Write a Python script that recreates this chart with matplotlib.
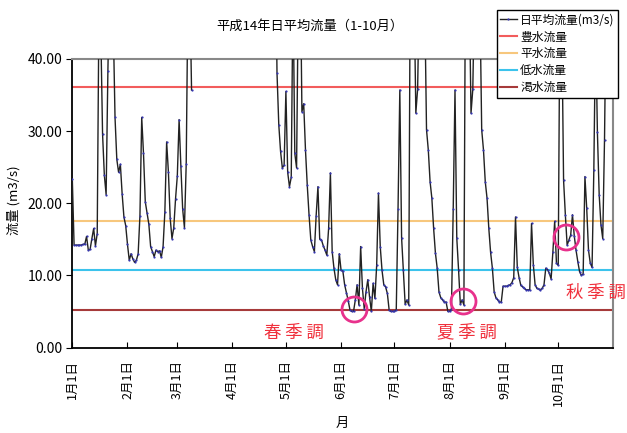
import numpy as np
import matplotlib
matplotlib.use('Agg')
import matplotlib.pyplot as plt

plt.rcParams['font.family'] = ['Noto Sans CJK JP', 'DejaVu Sans']

nan = np.nan

# Daily mean flow (m3/s), 2002 Jan 1 - Oct 31 (values above 40 run off the chart)
jan = [23.4, 14.2, 14.2, 14.2, 14.2, 14.2, 14.3, 14.3, 15.4, 13.5, 13.6, 15.1, 16.5, 14.1, 15.8,
       48, 44, 29.6, 23.9, 21.2, 38.4, 52, 55, 45, 31.9, 26.1, 24.3, 25.4, 21.3, 18.1, 16.9]
feb = [14.3, 12.1, 13.0, 12.3, 11.8, 12.1, 13.0, 18.3, 31.9, 26.9, 20.2, 18.6, 17.1, 14.0,
       13.3, 12.6, 13.5, 13.3, 13.4, 12.5, 14.0, 18.8, 28.5, 24.3, 17.9, 15.1, 16.6, 20.6]
mar = [23.8, 31.6, 25.1, 19.2, 16.6, 25.5, 50, 50, 35.7] + [nan] * 22
apr = [nan] * 24 + [60, 38.1, 30.9, 27.2, 24.9, 25.3]
may = [35.5, 24.3, 22.3, 23.6, 50, 26.9, 24.9, 50, 55, 32.7, 33.8, 27.4, 22.5, 18.4, 14.9,
       14.0, 13.3, 18.3, 22.3, 15.0, 14.9, 14.1, 13.5, 12.8, 16.5, 24.2, 13.3, 11.0, 9.4, 8.7, 13.0]
jun = [10.7, 10.6, 8.7, 7.6, 6.5, 5.2, 5.0, 5.0, 6.6, 8.7, 5.9, 14.0, 8.2, 5.4, 7.7,
       9.4, 7.0, 5.0, 8.9, 6.8, 11.4, 21.4, 14.0, 10.7, 8.7, 8.4, 7.5, 5.2, 5.0, 5.0]
jul = [5.0, 5.2, 19.2, 35.7, 15.2, 10.7, 6.0, 6.6, 5.9, 60, 55, 50, 32.5, 35.8, 50, 60,
       55, 48, 30.2, 27.4, 23.0, 20.7, 16.5, 13.1, 11.0, 7.7, 6.9, 6.6, 6.3, 6.3, 5.0]
aug = [5.0, 5.3, 19.2, 35.7, 15.2, 10.8, 6.0, 6.6, 5.9, 60, 55, 50, 32.5, 35.8, 50, 60,
       55, 48, 30.2, 27.4, 23.0, 20.7, 16.5, 13.2, 11.0, 7.7, 6.9, 6.6, 6.3, 6.3, 8.5]
sep = [8.5, 8.5, 8.6, 8.7, 9.0, 9.7, 18.1, 11.1, 9.7, 8.6, 8.4, 8.2, 8.0, 8.0, 8.0,
       17.2, 11.5, 8.7, 8.2, 8.1, 8.0, 8.2, 8.7, 11.0, 10.8, 10.3, 9.5, 13.3, 17.5, 11.7]
octo = [11.4, 50, 45, 23.2, 18.4, 14.2, 14.9, 15.6, 18.4, 15.5, 13.5, 11.9, 10.5, 10.0, 10.2,
        23.7, 19.3, 13.5, 11.7, 11.1, 24.6, 45, 29.9, 21.2, 17.0, 15.1, 28.8, 50, 55, 50, 45]

flow = np.array(jan + feb + mar + apr + may + jun + jul + aug + sep + octo, dtype=float)
days = np.arange(len(flow))

month_starts = [0, 31, 59, 90, 120, 151, 181, 212, 243, 273]
month_labels = ['1月1日', '2月1日', '3月1日', '4月1日', '5月1日',
                '6月1日', '7月1日', '8月1日', '9月1日', '10月1日']

ref_names = ['豊水流量', '平水流量', '低水流量', '渇水流量']
ref_values = [36.1, 17.6, 10.75, 5.15]
ref_colors = ['#f25c5c', '#f7c77d', '#3cc3ec', '#a63a3a']

season_labels = ['春 季 調', '夏 季 調', '秋 季 調']
season_circle_day = [158.4, 219.3, 277.6]
season_circle_val = [5.4, 6.4, 15.3]
season_text_day = [124.5, 221.6, 294.2]
season_text_val = [2.0, 2.1, 7.6]

W, H = 627, 433
fig = plt.figure(figsize=(W / 100, H / 100), dpi=100)
ax = fig.add_axes([72.3 / W, 1 - 347.5 / H, (612.7 - 72.3) / W, (347.5 - 59) / H])

ref_handles = []
for name, v, c in zip(ref_names, ref_values, ref_colors):
    h = ax.axhline(v, color=c, lw=1.5, zorder=2)
    ref_handles.append(h)

line, = ax.plot(days, flow, color='#222222', lw=1.0, marker='o', ms=1.6,
                mfc='#3535b0', mec='#3535b0', mew=0, zorder=3)

ax.plot(season_circle_day, season_circle_val, 'o', ms=18, mfc='none',
        mec='#e8318c', mew=2, zorder=4, clip_on=False)
for lab, d, v in zip(season_labels, season_text_day, season_text_val):
    ax.text(d, v, lab, color='#f0303c', fontsize=12.5, ha='center', va='center', zorder=5)

ax.set_xlim(0, 303.6)
ax.set_ylim(0, 40)
ax.set_yticks(np.arange(0, 41, 10))
ax.set_yticklabels([f'{v:.2f}' for v in np.arange(0, 41, 10)])
ax.set_xticks(month_starts)
ax.set_xticklabels(month_labels, rotation=90)
ax.tick_params(axis='x', direction='in', length=4, pad=9, labelsize=9)
ax.tick_params(axis='y', direction='out', length=4, pad=3, labelsize=10)

for s in ['left', 'bottom']:
    ax.spines[s].set_color('black')
    ax.spines[s].set_linewidth(1.3)
for s in ['top', 'right']:
    ax.spines[s].set_color('#888888')
    ax.spines[s].set_linewidth(1.5)

leg = ax.legend([line] + ref_handles, ['日平均流量(m3/s)'] + ref_names,
                loc='upper right', bbox_to_anchor=(618.3 / W, 1 - 10 / H),
                bbox_transform=fig.transFigure, frameon=True, fancybox=False,
                edgecolor='black', framealpha=1, fontsize=8.5, handlelength=1.4,
                handletextpad=0.3, borderpad=0.3, labelspacing=0.33,
                borderaxespad=0, numpoints=1)
leg.get_frame().set_linewidth(1.0)
leg.set_zorder(10)

fig.text(310 / W, 1 - 26 / H, '平成14年日平均流量（1-10月）', ha='center', va='center', fontsize=9.5)
fig.text(14 / W, 1 - 200 / H, '流量 (m3/s)', rotation=90, ha='center', va='center', fontsize=9.5)
fig.text(342 / W, 1 - 423 / H, '月', ha='center', va='center', fontsize=9.5)

fig.savefig('out.png', dpi=100)
